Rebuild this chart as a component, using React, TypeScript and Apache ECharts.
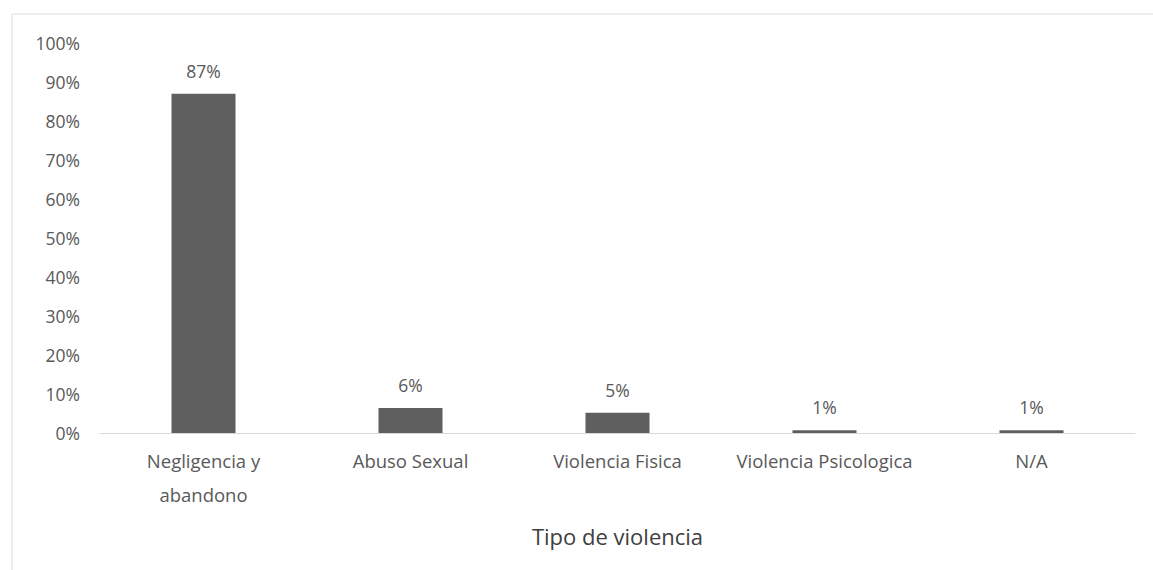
import React, { useEffect, useRef } from "react";
import * as echarts from "echarts";

const categories = ["Negligencia y\nabandono", "Abuso Sexual", "Violencia Fisica", "Violencia Psicologica", "N/A"];
const values = [0.87, 0.064, 0.052, 0.007, 0.007];
const labelTexts = ["87%", "6%", "5%", "1%", "1%"];
const yTicks = [0, 0.1, 0.2, 0.3, 0.4, 0.5, 0.6, 0.7, 0.8, 0.9, 1.0];

export default function App() {
  const ref = useRef<HTMLDivElement>(null);
  useEffect(() => {
    const chart = echarts.init(ref.current!, null, { renderer: "svg" });
    const font = "'Open Sans', Lato, sans-serif";
    chart.setOption({
      animation: false,
      backgroundColor: "#ffffff",
      graphic: [
        {
          type: "rect",
          shape: { x: 12, y: 14, width: 1150, height: 580 },
          style: { fill: "none", stroke: "#dcdcdc", lineWidth: 1 },
          silent: true,
        },
      ],
      grid: { left: 100, right: 18, top: 43, bottom: 137 },
      xAxis: {
        type: "category",
        data: categories,
        name: "Tipo de violencia",
        nameLocation: "middle",
        nameGap: 92,
        nameTextStyle: { color: "#404040", fontSize: 22, fontFamily: font },
        axisLine: { lineStyle: { color: "#d9d9d9", width: 1 } },
        axisTick: { show: false },
        axisLabel: {
          color: "#595959",
          fontSize: 18.5,
          fontFamily: font,
          margin: 10,
          lineHeight: 34,
          interval: 0,
        },
      },
      yAxis: {
        type: "value",
        min: 0,
        max: 1,
        interval: 0.1,
        splitLine: { show: false },
        axisLine: { show: false },
        axisTick: { show: false },
        axisLabel: {
          color: "#595959",
          fontSize: 17.5,
          fontFamily: font,
          margin: 20,
          formatter: (v: number) => Math.round(v * 100) + "%",
        },
      },
      series: [
        {
          type: "bar",
          data: values,
          barWidth: 64,
          itemStyle: { color: "#5f5f5f" },
          label: {
            show: true,
            position: "top",
            distance: 14,
            color: "#595959",
            fontSize: 17.5,
            fontFamily: font,
            formatter: (p: any) => labelTexts[p.dataIndex],
          },
        },
      ],
    });
    return () => chart.dispose();
  }, []);
  return (
    <div
      ref={ref}
      style={{ position: "absolute", left: 0, top: 0, width: 1153, height: 570 }}
    />
  );
}
